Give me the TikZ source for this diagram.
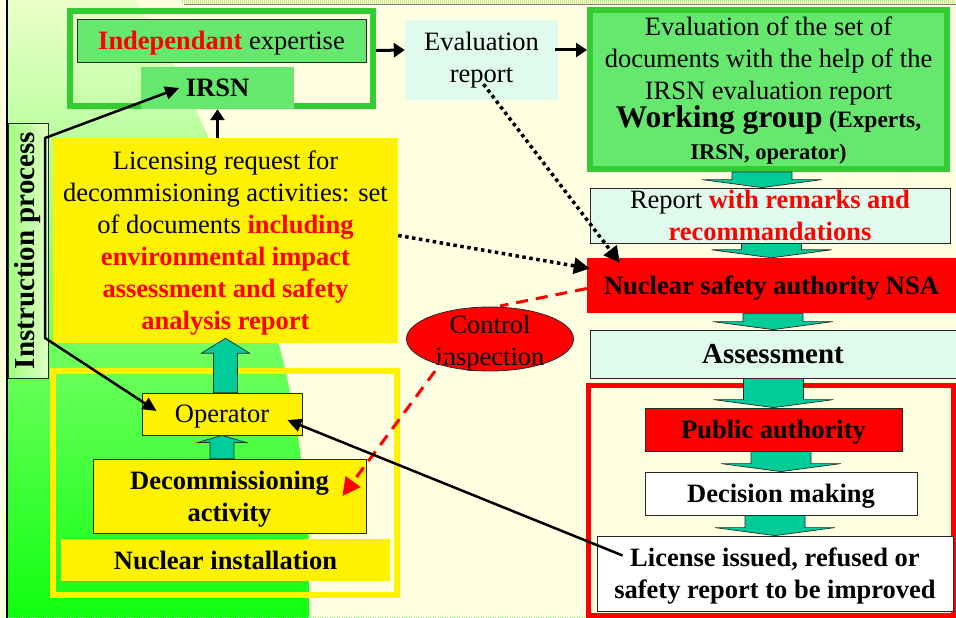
\documentclass[tikz,border=0pt]{standalone}
\usepackage{fontspec}
\setmainfont{Liberation Serif}
\usetikzlibrary{arrows.meta,shapes.geometric,calc}

\definecolor{cream}{RGB}{255,255,225}
\definecolor{boxgreen}{RGB}{102,232,110}
\definecolor{framegreen}{RGB}{51,204,51}
\definecolor{mint}{RGB}{224,250,238}
\definecolor{tealfill}{RGB}{0,204,153}
\definecolor{bgtop}{RGB}{235,255,200}
\definecolor{bgmid}{RGB}{155,255,128}
\definecolor{bgbot}{RGB}{16,255,16}
\definecolor{instrtop}{RGB}{225,255,195}
\definecolor{instrbot}{RGB}{160,255,130}
\definecolor{edge}{RGB}{40,40,40}
\definecolor{dotlime}{RGB}{200,235,130}

\newcommand{\bigfont}{\fontsize{26.5}{32}\selectfont}

\tikzset{
  box/.style={rectangle, inner sep=0pt, font=\bigfont, align=center},
  greenbox/.style={box, fill=boxgreen},
  yellowbox/.style={box, fill=yellow},
  redbox/.style={box, fill=red, font=\bigfont\bfseries},
  mintbox/.style={box, fill=mint},
  outlined/.style={draw=edge, line width=0.8pt},
  bigframe/.style={rectangle, inner sep=0pt, line width=#1},
  thickarrow/.style={line width=3pt, -{Triangle[length=11pt,width=14pt]}},
  thinarrow/.style={line width=2.5pt, -{Triangle[length=14pt,width=13pt]}},
  dotarrow/.style={line width=3.5pt, dash pattern=on 3.5pt off 3.5pt, -{Triangle[length=16pt,width=16pt]}},
  reddash/.style={red, line width=3pt, dash pattern=on 12pt off 8pt},
  blockarr/.style={fill=tealfill, draw=edge, line width=0.7pt}
}

% teal block arrow: tail, tip, half shaft, half head, head length
\newcommand{\blockarrow}[5]{%
  \path (#1) coordinate (tailraw) (#2) coordinate (tipc);
  \path (tipc |- tailraw) coordinate (tailc);
  \path ($(tipc)!#5!(tailc)$) coordinate (basec);
  \draw[blockarr] ($(tailc)+(-#3,0)$) -- ($(tailc)+(#3,0)$) -- ($(basec)+(#3,0)$)
    -- ($(basec)+(#4,0)$) -- (tipc) -- ($(basec)+(-#4,0)$) -- ($(basec)+(-#3,0)$) -- cycle;
}

\begin{document}
\begin{tikzpicture}[x=1pt, y=-1pt]
% Background
\useasboundingbox (0,0) rectangle (956,618);
\fill[cream] (0,0) rectangle (956,618);
\shade[top color=bgtop, middle color=bgmid, bottom color=bgbot]
  (8,0) -- (135,0) .. controls (200,90) and (280,300) .. (300,450) -- (309,540) -- (309,618) -- (8,618) -- cycle;
\draw[line width=2pt] (7,0) -- (7,618);
\draw[line width=4pt, dotlime, dash pattern=on 1pt off 1pt] (182,2) -- (956,2);
\draw[gray, line width=1pt] (184,5) -- (956,5);
\draw[green!50, dotted] (8,617) -- (956,617);

% Instruction process
\node[box, rotate=90, minimum width=255pt, minimum height=40pt, outlined, left color=instrbot, right color=instrtop,
  font=\fontsize{29}{32}\selectfont\bfseries] (instr) at (28,250.5) {Instruction process};

% Independant expertise
\node[bigframe=6pt, draw=framegreen, minimum width=303pt, minimum height=95pt] (expframe) at (221.5,58.5) {};
\node[greenbox, outlined, minimum width=289pt, minimum height=43pt, text depth=-6pt] (indep) at (221.5,40.5)
  {\textcolor{red}{\bfseries Independant} expertise};
\node[greenbox, minimum width=153pt, minimum height=42pt, font=\bigfont\bfseries, text depth=-11pt] (irsn) at (217.5,88) {IRSN};

% Evaluation report
\node[mintbox, minimum width=153pt, minimum height=80pt] (evalrep) at (481.5,60) {Evaluation\\report};

% Working group
\node[greenbox, draw=framegreen, line width=6pt, minimum width=357pt, minimum height=159pt, text depth=2pt] (wg) at (768.5,89.5)
  {Evaluation of the set of\\documents with the help of the\\IRSN evaluation report\\[-4pt]
   {\fontsize{31.5}{32}\selectfont\bfseries Working group} {\fontsize{23.5}{32}\selectfont\bfseries (Experts,}\\[0pt]
   {\fontsize{22.5}{32}\selectfont\bfseries IRSN, operator)}};

% Right column
\node[mintbox, outlined, minimum width=360pt, minimum height=55pt] (rep) at (770,215.5)
  {Report \textcolor{red}{\bfseries with remarks and}\\\textcolor{red}{\bfseries recommandations}};
\node[redbox, minimum width=369pt, minimum height=55pt, text depth=-15pt] (nsa) at (771.5,285.5) {Nuclear safety authority NSA};
\node[mintbox, outlined, minimum width=366pt, minimum height=48pt, font=\fontsize{29}{32}\selectfont\bfseries, text depth=-9pt] (assess) at (773,354) {Assessment};
\node[bigframe=5pt, draw=red, minimum width=365pt, minimum height=230pt] (decframe) at (771,500.5) {};
\node[redbox, outlined, minimum width=257pt, minimum height=43pt, text depth=-11pt] (public) at (773.5,429.5) {Public authority};
\node[box, fill=white, outlined, minimum width=272pt, minimum height=43pt, font=\bigfont\bfseries, text depth=-11pt] (decision) at (781,493.5) {Decision making};
\node[box, fill=white, outlined, minimum width=356pt, minimum height=75pt, font=\bigfont\bfseries, text depth=-8pt] (license) at (775,573.5)
  {License issued, refused or\\safety report to be improved};

% Licensing request
\node[yellowbox, minimum width=345pt, minimum height=205pt, text depth=-5pt] (lic) at (225.5,240.5)
  {Licensing request for\\decommisioning activities: set\\of documents \textcolor{red}{\bfseries including}\\
   \textcolor{red}{\bfseries environmental impact}\\\textcolor{red}{\bfseries assessment and safety}\\
   \textcolor{red}{\bfseries analysis report}};

% Nuclear installation
\node[bigframe=6pt, draw=yellow, minimum width=344pt, minimum height=224pt] (nuclframe) at (225,483) {};
\node[yellowbox, outlined, minimum width=160pt, minimum height=42pt, text depth=-8pt] (op) at (222,414) {Operator};
\node[yellowbox, outlined, minimum width=273pt, minimum height=74pt, font=\bigfont\bfseries, text depth=-8pt] (dec) at (229.5,496)
  {Decommissioning\\activity};
\node[yellowbox, minimum width=329pt, minimum height=42pt, font=\bigfont\bfseries, text depth=-4pt] (nucl) at (225.5,560) {Nuclear installation};

% Block arrows
\blockarrow{wg.south}{[xshift=-8pt]rep.north}{30}{60}{8pt}
\blockarrow{rep.south}{nsa.north}{30}{60}{8pt}
\blockarrow{nsa.south}{assess.north}{30}{60}{8pt}
\blockarrow{assess.south}{public.north}{30}{60}{8pt}
\blockarrow{public.south}{decision.north}{30}{60}{8pt}
\blockarrow{decision.south}{license.north}{30}{60}{8pt}
\blockarrow{op.north}{[yshift=5pt]lic.south}{12}{24}{15pt}
\blockarrow{dec.north}{op.south}{12}{24}{7pt}

% Black arrows
\draw[thickarrow] ([yshift=8pt]expframe.east) -- ([yshift=10pt]evalrep.west);
\draw[thickarrow] ([xshift=-3pt,yshift=10pt]evalrep.east) -- ([yshift=39.5pt]wg.west);
\draw[thickarrow] (lic.north -| irsn.south) -- (irsn.south);

% Instruction process lines
\coordinate (bendtop) at (45,138);
\coordinate (bendbot) at (45,338);
\draw[line width=2.5pt, {Triangle[length=14pt,width=13pt]}-{Triangle[length=14pt,width=13pt]}, line join=round]
  ($(irsn.west)!0.5!(irsn.center)$) -- (bendtop) -- (bendbot) -- ([shift={(15,-3)}]op.west);

% Dotted arrows
\draw[dotarrow] ([shift={(0,-5)}]lic.east) -- ([shift={(3,-17)}]nsa.west);
\draw[dotarrow] ([shift={(2,-16)}]evalrep.south) -- ([shift={(33,5)}]nsa.north west);

% Control inspection
\draw[reddash] ([yshift=-3pt]nsa.west) -- (500,306);
\node[ellipse, fill=red, draw=edge, line width=0.8pt, inner sep=0pt, minimum width=167pt, minimum height=64pt] (ctrl) at (490,339) {};
\node[box, text depth=0pt] (ctrltext) at (490,340) {Control\\inspection};
\draw[reddash, -{Triangle[length=18pt,width=18pt]}] ([shift={(-43,16)}]ctrl.center) -- ([xshift=-24pt]dec.east);

% Decision back to operator
\draw[thinarrow] ([shift={(26,-18)}]license.west) -- ([shift={(-15,6)}]op.east);

\end{tikzpicture}
\end{document}
